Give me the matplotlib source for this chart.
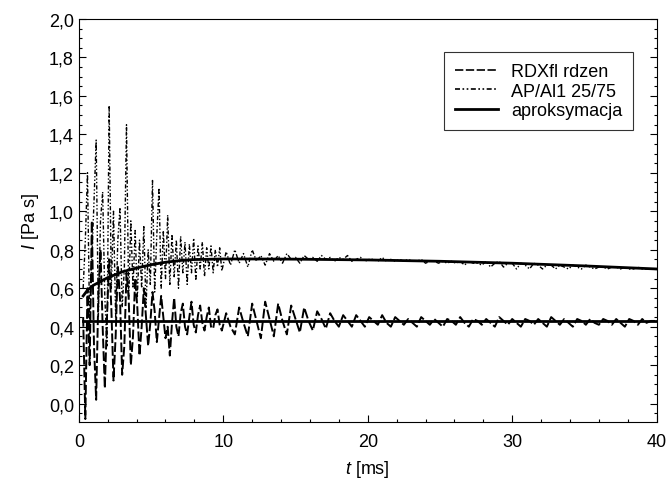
import numpy as np
import matplotlib
matplotlib.use("Agg")
import matplotlib.pyplot as plt
from matplotlib.ticker import MultipleLocator, FuncFormatter

plt.rcParams['font.family'] = ['Liberation Sans', 'DejaVu Sans']
plt.rcParams['mathtext.fontset'] = 'custom'
plt.rcParams['mathtext.it'] = 'Liberation Sans:italic'
plt.rcParams['mathtext.rm'] = 'Liberation Sans'

# time grids (ms)
t_early = np.round(np.arange(0.30, 10.0, 0.15), 2)
t_late = np.round(np.arange(10.2, 40.0, 0.3), 2)

# RDXfl rdzen
rdx_early = [0.45, -0.08, 0.60, 0.20, 0.95, 0.30, 0.02, 0.55, 0.80, 0.40,
             0.08, 0.45, 0.75, 0.50, 0.12, 0.35, 0.72, 0.55, 0.15, 0.30,
             0.68, 0.55, 0.20, 0.35, 0.65, 0.50, 0.25, 0.40, 0.60, 0.45,
             0.30, 0.42, 0.58, 0.48, 0.32, 0.44, 0.56, 0.45, 0.34, 0.40,
             0.25, 0.42, 0.55, 0.40, 0.35, 0.47, 0.52, 0.40, 0.36, 0.45,
             0.53, 0.41, 0.37, 0.46, 0.51, 0.42, 0.38, 0.45, 0.50, 0.40,
             0.39, 0.46, 0.49, 0.41, 0.38]
rdx_late = [0.47, 0.40, 0.36, 0.50, 0.42, 0.35, 0.52, 0.43, 0.34, 0.53,
            0.44, 0.35, 0.52, 0.43, 0.36, 0.51, 0.44, 0.37, 0.50, 0.43,
            0.38, 0.48, 0.44, 0.39, 0.47, 0.43, 0.40, 0.46, 0.43, 0.40,
            0.46, 0.43, 0.40, 0.45, 0.43, 0.41, 0.46, 0.42, 0.40, 0.45,
            0.43, 0.41, 0.44, 0.42, 0.40, 0.45, 0.43, 0.41, 0.44, 0.42,
            0.40, 0.44, 0.43, 0.41, 0.45, 0.42, 0.40, 0.44, 0.43, 0.41,
            0.44, 0.42, 0.40, 0.45, 0.43, 0.41, 0.44, 0.42, 0.40, 0.44,
            0.43, 0.41, 0.44, 0.42, 0.40, 0.45, 0.43, 0.41, 0.44, 0.42,
            0.40, 0.44, 0.43, 0.41, 0.44, 0.42, 0.41, 0.44, 0.43, 0.41,
            0.44, 0.42, 0.40, 0.44, 0.43, 0.41, 0.44, 0.42, 0.43, 0.43]

# AP/Al1 25/75
ap_early = [0.60, 0.85, 1.20, 0.40, 0.75, 1.05, 1.37, 0.45, 0.95, 1.10,
            0.55, 0.30, 1.55, 0.60, 1.00, 0.45, 0.85, 1.02, 0.50, 0.70,
            1.45, 0.55, 0.95, 0.60, 0.90, 0.55, 0.85, 0.60, 0.92, 0.50,
            0.80, 0.62, 1.16, 0.58, 0.88, 1.12, 0.60, 0.90, 0.65, 0.98,
            0.62, 0.88, 0.66, 0.85, 0.60, 0.87, 0.68, 0.84, 0.62, 0.83,
            0.68, 0.86, 0.64, 0.82, 0.70, 0.84, 0.66, 0.81, 0.70, 0.82,
            0.68, 0.80, 0.71, 0.81, 0.69]
ap_late = [0.79, 0.72, 0.80, 0.73, 0.78, 0.71, 0.80, 0.74, 0.77, 0.72,
           0.78, 0.74, 0.77, 0.73, 0.78, 0.75, 0.76, 0.73, 0.77, 0.75,
           0.76, 0.74, 0.77, 0.75, 0.76, 0.74, 0.76, 0.75, 0.77, 0.74,
           0.75, 0.76, 0.74, 0.75, 0.75, 0.74, 0.76, 0.74, 0.75, 0.74,
           0.75, 0.74, 0.75, 0.74, 0.74, 0.75, 0.73, 0.74, 0.74, 0.73,
           0.74, 0.73, 0.74, 0.73, 0.74, 0.72, 0.74, 0.73, 0.73, 0.72,
           0.74, 0.71, 0.73, 0.74, 0.71, 0.73, 0.73, 0.70, 0.73, 0.72,
           0.70, 0.73, 0.72, 0.70, 0.72, 0.72, 0.70, 0.72, 0.71, 0.70,
           0.72, 0.71, 0.70, 0.72, 0.71, 0.70, 0.71, 0.71, 0.70, 0.71,
           0.71, 0.70, 0.71, 0.70, 0.70, 0.71, 0.70, 0.70, 0.70, 0.70]

# approximations
approx_up_t = [0.3, 0.6, 1, 1.5, 2, 3, 4, 5, 6, 7, 8, 10, 12, 15, 20, 25, 30, 35, 40]
approx_up = [0.56, 0.59, 0.615, 0.635, 0.655, 0.685, 0.705, 0.722, 0.735, 0.744,
             0.749, 0.752, 0.752, 0.751, 0.747, 0.740, 0.730, 0.716, 0.700]
approx_lo_t = [0.3, 40]
approx_lo = [0.43, 0.43]

fig = plt.figure(figsize=(6.68, 4.85), dpi=100)
ax = fig.add_axes([0.118, 0.128, 0.865, 0.831])

t_all = np.concatenate([t_early, t_late])
ax.plot(t_all, rdx_early + rdx_late, color='black', lw=1.4,
        linestyle=(0, (5, 1.5)), label='RDXfl rdzen')
ax.plot(t_all, ap_early + ap_late, color='black', lw=1.0,
        linestyle=(0, (3, 1.5, 1, 1.5, 1, 1.5)), label='AP/Al1 25/75')
ax.plot(approx_up_t, approx_up, color='black', lw=2.0, label='aproksymacja')
ax.plot(approx_lo_t, approx_lo, color='black', lw=2.0)

ax.set_xlim(0, 40)
ax.set_ylim(-0.095, 2.0)
ax.xaxis.set_major_locator(MultipleLocator(10))
ax.xaxis.set_minor_locator(MultipleLocator(2))
ax.yaxis.set_major_locator(MultipleLocator(0.2))
ax.yaxis.set_minor_locator(MultipleLocator(0.05))
ax.yaxis.set_major_formatter(FuncFormatter(lambda v, p: f"{v:.1f}".replace('.', ',').replace('-0,0', '0,0')))
ax.tick_params(which='both', direction='in', left=True, right=True, top=False, bottom=True,
               labelsize=13, width=0.8)
ax.tick_params(which='major', length=5)
ax.tick_params(which='minor', length=2.5)
ax.tick_params(axis='x', pad=8)

ax.set_xlabel(r'$\it{t}$ [ms]', fontsize=13, labelpad=6)
ax.set_ylabel(r'$\it{I}$ [Pa s]', fontsize=13, labelpad=6)

leg = ax.legend(loc='upper right', bbox_to_anchor=(0.975, 0.94), fontsize=13,
                frameon=True, fancybox=False, edgecolor='black', handlelength=2.4,
                borderpad=0.6, labelspacing=0.15, handletextpad=0.7)
leg.get_frame().set_linewidth(0.8)
for h in leg.get_lines():
    h.set_linewidth(1.2)
leg.get_lines()[2].set_linewidth(2.0)

fig.savefig('out.png', dpi=100)
